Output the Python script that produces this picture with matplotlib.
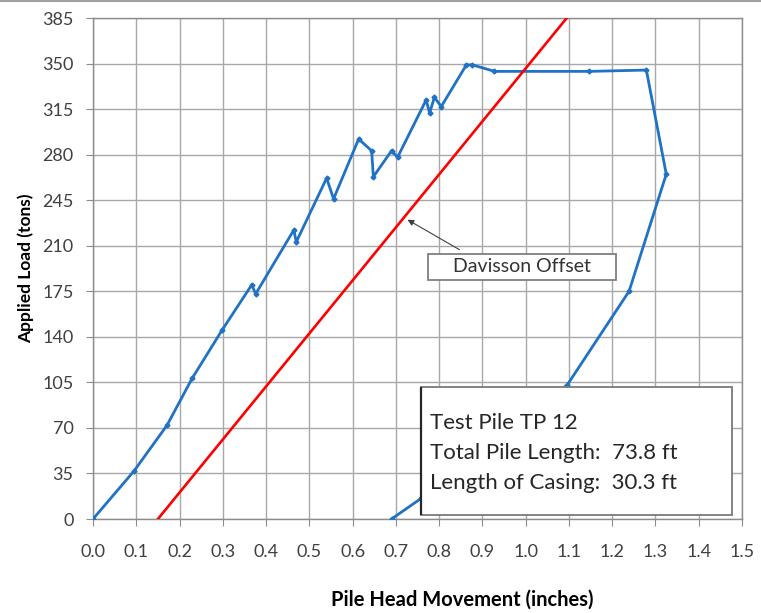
import matplotlib
matplotlib.use("Agg")
import matplotlib.pyplot as plt
from matplotlib.patches import Rectangle
import numpy as np

# Load test curve (pile head movement in inches, applied load in tons)
movement = [0.0, 0.095, 0.171, 0.229, 0.298, 0.367, 0.376, 0.464, 0.470,
            0.540, 0.556, 0.614, 0.644, 0.648, 0.690, 0.704, 0.770, 0.778,
            0.789, 0.805, 0.863, 0.877, 0.928, 1.147, 1.279, 1.325, 1.239,
            1.096, 0.759, 0.690]
load = [0, 37, 72, 108, 145, 180, 173, 222, 213,
        262, 246, 292, 283, 263, 283, 278, 322, 312,
        324, 317, 349, 349, 344, 344, 345, 265, 175,
        103, 16, 0]

# Davisson offset line
davisson_x = [0.15, 1.095]
davisson_y = [0, 385]

x_ticks = np.arange(0, 1.51, 0.1)
y_ticks = np.arange(0, 386, 35)

info_lines = ["Test Pile TP 12",
              "Total Pile Length:  73.8 ft",
              "Length of Casing:  30.3 ft"]

plt.rcParams["font.family"] = ["Lato", "DejaVu Sans"]

fig = plt.figure(figsize=(7.61, 6.13), dpi=100)
ax = fig.add_axes([0.1222, 0.1533, 0.8528, 0.8173])

ax.plot(movement, load, color="#1f72c4", lw=2.0, marker="D", markersize=2.5, zorder=3)
ax.plot(davisson_x, davisson_y, color="#ff0000", lw=1.9, zorder=3)

ax.set_xlim(0, 1.5)
ax.set_ylim(0, 385)
ax.set_xticks(x_ticks)
ax.set_xticklabels([f"{t:.1f}" for t in x_ticks])
ax.set_yticks(y_ticks)
ax.grid(True, color="#a8a8a8", lw=1.0)
ax.set_axisbelow(True)
for s in ax.spines.values():
    s.set_color("#8c8c8c")
    s.set_linewidth(1.0)
ax.tick_params(direction="out", length=5, color="#8c8c8c", labelsize=13,
               labelcolor="#404040", pad=9)
ax.tick_params(axis="x", pad=13)

ax.set_ylabel("Applied Load (tons)", fontsize=12.5, fontweight="bold", labelpad=6)
fig.text(0.607, 0.021, "Pile Head Movement (inches)", ha="center", va="center",
         fontsize=14.5, fontweight="bold")

# Davisson offset label with arrow
ax.add_patch(Rectangle((0.775, 184), 0.434, 20, fc="white", ec="#7f7f7f", lw=1.3,
                       zorder=5))
ax.text(0.992, 194, "Davisson Offset", ha="center", va="center", fontsize=14,
        color="#333333", zorder=6)
ax.annotate("", xy=(0.727, 230), xytext=(0.847, 207),
            arrowprops=dict(arrowstyle="-|>", color="#404040", lw=0.8,
                            shrinkA=0, shrinkB=0, mutation_scale=9),
            zorder=5)

# Info box
ax.add_patch(Rectangle((0.759, 3.1), 0.718, 98.5, fc="white", ec="#7a7a7a", lw=1.3,
                       zorder=5))
ax.plot([0.759, 0.759], [3.1, 101.6], color="#262626", lw=1.6, zorder=6,
        solid_capstyle="butt")
for line, yv in zip(info_lines, [73.9, 50.8, 27.7]):
    ax.text(0.778, yv, line, ha="left", va="center", fontsize=16,
            color="#262626", zorder=6)

# figure border line at top
fig.add_artist(plt.Line2D([0, 1], [0.998, 0.998], color="#a0a0a0", lw=1.5,
                          transform=fig.transFigure))

fig.savefig("out.png", dpi=100)
